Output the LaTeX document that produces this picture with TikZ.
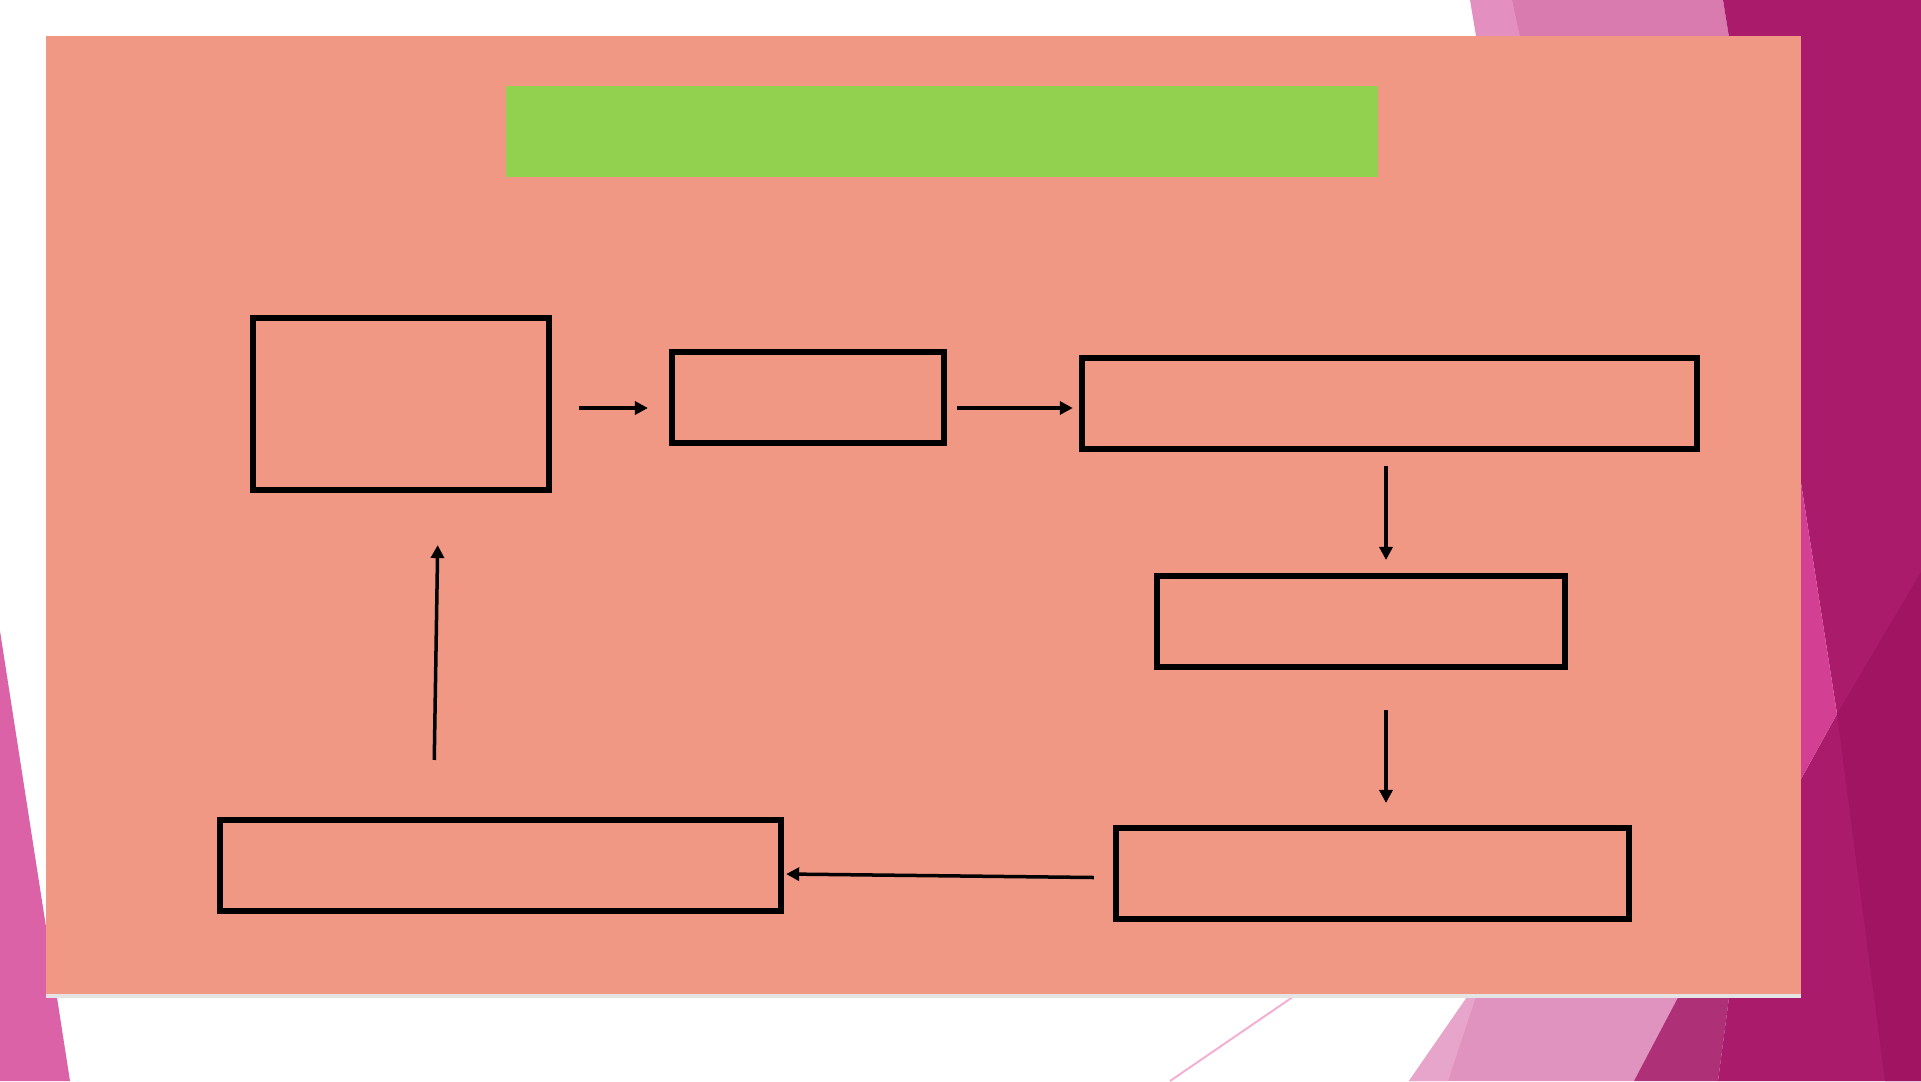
\documentclass[tikz,border=0pt]{standalone}
\usetikzlibrary{arrows.meta,calc}
\definecolor{salmon}{HTML}{F09884}
\definecolor{titlegreen}{HTML}{92D050}
\definecolor{rosetop}{HTML}{D97BAF}
\definecolor{rosetopl}{HTML}{E390C1}
\definecolor{rosepale}{HTML}{DF93BE}
\definecolor{roselight}{HTML}{E7A5CB}
\definecolor{rosemid}{HTML}{D23F93}
\definecolor{roseleft}{HTML}{DC62A8}
\definecolor{roseline}{HTML}{F4B0D2}
\definecolor{plum}{HTML}{AE3177}
\definecolor{magentaA}{HTML}{AA1C6B}
\definecolor{magentaB}{HTML}{A01462}
\definecolor{shadowgrey}{HTML}{E4E4E4}
\begin{document}
\begin{tikzpicture}[x=0.01cm, y=-0.01cm,
  box/.style={rectangle, draw, line width=0.06cm, inner sep=0pt},
  arr/.style={-{Triangle[length=0.13cm, width=0.13cm]}, line width=0.035cm}
]
  \useasboundingbox (0,0) rectangle (1921,1081);

  % Slide background
  \fill[white] (0,0) rectangle (1921,1081);
  \fill[rosetop] (1500,0) -- (1723,0) -- (1801,483) -- (1801,300) -- (1500,300) -- cycle;
  \fill[rosetopl] (1470,0) -- (1512,0) -- (1525,60) -- (1480,60) -- cycle;
  \fill[rosepale] (1472,990) -- (1690,990) -- (1634,1081) -- (1409,1081) -- cycle;
  \fill[roselight] (1472,990) -- (1478,990) -- (1448,1081) -- (1409,1081) -- cycle;
  \fill[plum] (1634,1081) -- (1682,990) -- (1730,990) -- (1718,1081) -- cycle;
  \fill[magentaA] (1723,0) -- (1921,0) -- (1921,1081) -- (1718,1081) -- (1730,990)
    -- (1801,779) -- (1837,714) -- (1801,483) -- cycle;
  \fill[rosemid] (1801,483) -- (1837,714) -- (1801,779) -- cycle;
  \fill[magentaB] (1921,572) -- (1837,714) -- (1885,1081) -- (1921,1081) -- cycle;
  \fill[roseleft] (0,631) -- (70,1081) -- (0,1081) -- cycle;
  \draw[roseline, line width=0.02cm] (1300,992) -- (1170,1081);

  % Content panel
  \fill[shadowgrey] (46,990) rectangle (1801,998);
  \fill[salmon] (46,36) rectangle (1801,994);
  \node[fill=titlegreen, inner sep=0pt, minimum width=8.72cm, minimum height=0.91cm] (title) at (942,131.5) {};

  % Boxes
  \node[box, minimum width=2.96cm, minimum height=1.72cm] (topleft) at (401,404) {};
  \node[box, minimum width=2.72cm, minimum height=0.91cm] (topmid) at (808,397.5) {};
  \node[box, minimum width=6.15cm, minimum height=0.91cm] (topright) at (1389.5,403.5) {};
  \node[box, minimum width=4.08cm, minimum height=0.91cm] (midright) at (1361,621.5) {};
  \node[box, minimum width=5.13cm, minimum height=0.91cm] (lowright) at (1372.5,873.5) {};
  \node[box, minimum width=5.605cm, minimum height=0.91cm] (lowleft) at (500.25,865.5) {};

  % Cycle
  \draw[arr] ($(topleft.east)+(27,4)$) -- ($(topmid.west)+(-21,10.5)$);
  \draw[arr] ($(topmid.east)+(10,10.5)$) -- ($(topright.west)+(-6,4.5)$);
  \draw[arr] ($(topright.south)+(-3.5,14)$) -- ($(midright.north)+(25,-13)$);
  \draw[arr] ($(midright.south)+(25,40)$) -- ($(lowright.north)+(13.5,-22)$);
  \draw[arr] ($(lowright.west)+(-19,4)$) -- ($(lowleft.east)+(2.5,8.5)$);
  \draw[arr] ($(lowleft.north)+(-66,-57)$) -- ($(topleft.south)+(36.7,52)$);
\end{tikzpicture}
\end{document}
